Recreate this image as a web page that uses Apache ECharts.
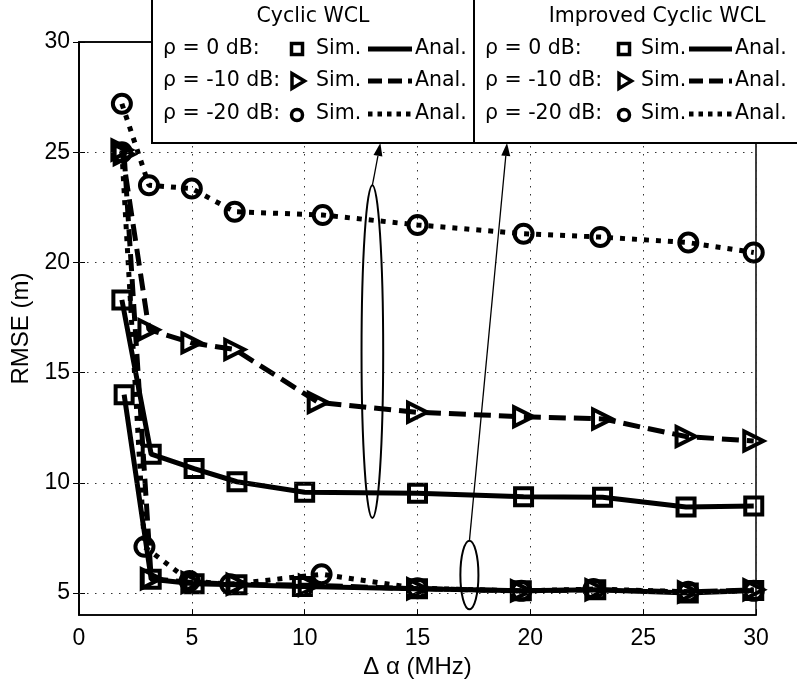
<!DOCTYPE html>
<html>
<head>
<meta charset="utf-8">
<script src="https://cdn.jsdelivr.net/npm/echarts@6/dist/echarts.min.js"></script>
<style>
  html, body { margin: 0; padding: 0; background: #fff; }
  #chart { width: 797px; height: 684px; }
</style>
</head>
<body>
<div id="chart"></div>
<script>
// RMSE versus frequency offset for cyclic WCL and improved cyclic WCL
const yTicks = [5, 10, 15, 20, 25, 30];

// Cyclic WCL
const cyc0X   = [1.9, 3.2, 5.1, 7.0, 10.0, 15.0, 19.7, 23.2, 26.9, 29.9];
const cyc0Y   = [18.3, 11.3, 10.65, 10.05, 9.57, 9.53, 9.37, 9.35, 8.9, 8.95];
const cyc10X  = [1.9, 3.1, 5.0, 6.9, 10.6, 15.0, 19.7, 23.2, 26.9, 29.9];
const cyc10Y  = [25.1, 16.95, 16.35, 16.05, 13.65, 13.2, 13.0, 12.9, 12.1, 11.9];
const cyc20X  = [1.9, 3.1, 5.0, 6.9, 10.8, 15.0, 19.7, 23.1, 27.0, 29.9];
const cyc20Y  = [27.2, 23.5, 23.35, 22.3, 22.15, 21.7, 21.3, 21.15, 20.9, 20.45];

// Improved cyclic WCL
const imp0X   = [2.0, 3.2, 5.1, 7.0, 9.9, 15.0, 19.6, 22.9, 27.0, 29.9];
const imp0Y   = [14.0, 5.63, 5.42, 5.38, 5.3, 5.2, 5.1, 5.15, 5.0, 5.12];
const imp10X  = [2.0, 3.2, 5.0, 7.0, 10.2, 15.0, 19.6, 22.9, 27.0, 29.9];
const imp10Y  = [24.9, 5.65, 5.48, 5.4, 5.35, 5.2, 5.1, 5.15, 5.05, 5.15];
const imp20X  = [1.9, 2.9, 4.9, 6.7, 10.75, 15.0, 19.6, 22.8, 27.0, 29.9];
const imp20Y  = [25.0, 7.1, 5.55, 5.4, 5.85, 5.22, 5.1, 5.18, 5.06, 5.1];

// Annotation ellipses (data units) and the arrows leading to each legend box
const ellipseCyclic   = { x: 13.0, y: 15.95, rx: 0.48, ry: 7.55 };
const ellipseImproved = { x: 17.3, y: 5.82, rx: 0.4, ry: 1.55 };

const chart = echarts.init(document.getElementById('chart'), null, { renderer: 'canvas' });

const zip = (xs, ys) => xs.map((x, i) => [x, ys[i]]);
const DASH = [17, 8];
const DOT = [5, 7];

function curve(name, xs, ys, symbol, dash, extra) {
  return Object.assign({
    name: name,
    type: 'line',
    data: zip(xs, ys),
    symbol: symbol,
    symbolSize: 17,
    showAllSymbol: true,
    lineStyle: { color: '#000', width: 5, type: dash, cap: 'butt' },
    itemStyle: { color: 'rgba(0,0,0,0)', borderColor: '#000', borderWidth: 4 },
    emphasis: { disabled: true },
    animation: false,
    z: 3
  }, extra || {});
}

const series = [
  curve('cyc0', cyc0X, cyc0Y, 'rect', 'solid', { symbolSize: 17 }),
  curve('cyc10', cyc10X, cyc10Y, 'triangle', DASH, { symbolRotate: -90, symbolSize: 19 }),
  curve('cyc20', cyc20X, cyc20Y, 'circle', DOT, { symbolSize: 18 }),
  curve('imp0', imp0X, imp0Y, 'rect', 'solid', { symbolSize: 17 }),
  curve('imp10', imp10X, imp10Y, 'triangle', DASH, { symbolRotate: -90, symbolSize: 19 }),
  curve('imp20', imp20X, imp20Y, 'circle', DOT, { symbolSize: 18 }),
  // horizontal dotted grid lines at the y ticks
  {
    type: 'line', data: [], silent: true,
    markLine: {
      symbol: 'none', silent: true, animation: false,
      label: { show: false },
      lineStyle: { color: '#333', width: 1, type: [1.5, 6.5] },
      data: yTicks.filter(v => v < 30).map(v => ({ yAxis: v }))
    }
  }
];

const tickFont = { fontFamily: 'Liberation Sans', fontSize: 23, color: '#000' };
const nameFont = { fontFamily: 'Liberation Sans', fontSize: 24, color: '#000' };

chart.setOption({
  animation: false,
  backgroundColor: '#fff',
  grid: { left: 79, right: 41, top: 42, bottom: 68, show: true, borderColor: '#000', borderWidth: 1.5, backgroundColor: 'transparent' },
  xAxis: [{
    type: 'value', min: 0, max: 30, interval: 5,
    name: 'Δ α (MHz)', nameLocation: 'middle', nameGap: 37,
    nameTextStyle: nameFont,
    axisLine: { show: true, lineStyle: { color: '#000', width: 1.5 } },
    axisTick: { show: true, inside: true, length: 6, lineStyle: { color: '#000' } },
    axisLabel: Object.assign({ margin: 12 }, tickFont),
    splitLine: { show: true, lineStyle: { color: '#333', width: 1, type: [1.5, 6.5] } }
  }, {
    type: 'value', min: 0, max: 30, interval: 5, position: 'top',
    axisLine: { show: true, lineStyle: { color: '#000', width: 1.5 } },
    axisTick: { show: true, inside: true, length: 6, lineStyle: { color: '#000' } },
    axisLabel: { show: false }, splitLine: { show: false }
  }],
  yAxis: [{
    type: 'value', min: 4, max: 30,
    name: 'RMSE (m)', nameLocation: 'middle', nameGap: 39,
    nameTextStyle: nameFont,
    axisLine: { show: true, lineStyle: { color: '#000', width: 1.5 } },
    axisTick: { show: true, inside: true, length: 6, customValues: yTicks, lineStyle: { color: '#000' } },
    axisLabel: Object.assign({ margin: 9, customValues: yTicks }, tickFont),
    splitLine: { show: false }
  }, {
    type: 'value', min: 4, max: 30, position: 'right',
    axisLine: { show: true, lineStyle: { color: '#000', width: 1.5 } },
    axisTick: { show: true, inside: true, length: 6, customValues: yTicks, lineStyle: { color: '#000' } },
    axisLabel: { show: false }, splitLine: { show: false }
  }],
  series: series
});

// ---- legend boxes and annotations ----
const LEG_FONT = '20.5px "DejaVu Sans"';
const rows = [49, 81, 114];
const labels = ['ρ = 0 dB:', 'ρ = -10 dB:', 'ρ = -20 dB:'];
const dashes = [null, [14, 6], [4.5, 5]];

function legendBox(x0, w, title, titleX, markerX, simX, lineX0, lineX1, analX) {
  const els = [];
  els.push({ type: 'rect', shape: { x: x0, y: -3, width: w, height: 146 },
    style: { fill: '#fff', stroke: '#000', lineWidth: 2 }, z: 10 });
  els.push({ type: 'text', x: titleX, y: 17, z: 11,
    style: { text: title, font: LEG_FONT, fill: '#000', align: 'center', verticalAlign: 'middle' } });
  rows.forEach((ry, i) => {
    els.push({ type: 'text', x: x0 + 11, y: ry, z: 11,
      style: { text: labels[i], font: LEG_FONT, fill: '#000', align: 'left', verticalAlign: 'middle' } });
    if (i === 0) {
      els.push({ type: 'rect', shape: { x: markerX - 5.5, y: ry - 5.5, width: 11, height: 11 }, z: 11,
        style: { fill: 'none', stroke: '#000', lineWidth: 3.5 } });
    } else if (i === 1) {
      els.push({ type: 'polygon', shape: { points: [[markerX - 5, ry - 7.5], [markerX + 7.5, ry], [markerX - 5, ry + 7.5]] }, z: 11,
        style: { fill: 'none', stroke: '#000', lineWidth: 3.5, lineJoin: 'miter' } });
    } else {
      els.push({ type: 'circle', shape: { cx: markerX, cy: ry + 1, r: 5.5 }, z: 11,
        style: { fill: 'none', stroke: '#000', lineWidth: 3.5 } });
    }
    els.push({ type: 'text', x: simX, y: ry, z: 11,
      style: { text: 'Sim.', font: LEG_FONT, fill: '#000', align: 'left', verticalAlign: 'middle' } });
    els.push({ type: 'line', shape: { x1: lineX0, y1: ry, x2: lineX1, y2: ry }, z: 11,
      style: { stroke: '#000', lineWidth: 5, lineDash: dashes[i] } });
    els.push({ type: 'text', x: analX, y: ry, z: 11,
      style: { text: 'Anal.', font: LEG_FONT, fill: '#000', align: 'left', verticalAlign: 'middle' } });
  });
  return els;
}

function arrow(p0, p1) {
  const dx = p1[0] - p0[0], dy = p1[1] - p0[1];
  const len = Math.sqrt(dx * dx + dy * dy);
  const ux = dx / len, uy = dy / len;
  const hl = 13, hw = 4.5;
  const bx = p1[0] - ux * hl, by = p1[1] - uy * hl;
  return [
    { type: 'line', shape: { x1: p0[0], y1: p0[1], x2: bx, y2: by }, z: 9,
      style: { stroke: '#000', lineWidth: 1.3 } },
    { type: 'polygon', shape: { points: [[p1[0], p1[1]], [bx - uy * hw, by + ux * hw], [bx + uy * hw, by - ux * hw]] }, z: 9,
      style: { fill: '#000' } }
  ];
}

function ellipseEl(e) {
  const c = chart.convertToPixel({ gridIndex: 0 }, [e.x, e.y]);
  const a = chart.convertToPixel({ gridIndex: 0 }, [e.x + e.rx, e.y + e.ry]);
  return { type: 'ellipse', shape: { cx: c[0], cy: c[1], rx: Math.abs(a[0] - c[0]), ry: Math.abs(c[1] - a[1]) }, z: 9,
    style: { fill: 'none', stroke: '#000', lineWidth: 2 } };
}

const topOf = e => chart.convertToPixel({ gridIndex: 0 }, [e.x, e.y + e.ry]);
const legendBottom = 143;

const graphics = []
  .concat(ellipseEl(ellipseCyclic), ellipseEl(ellipseImproved))
  .concat(arrow(topOf(ellipseCyclic), [topOf(ellipseCyclic)[0] + 8, legendBottom]))
  .concat(arrow(topOf(ellipseImproved), [507, legendBottom]))
  .concat(legendBox(152, 322, 'Cyclic WCL', 313, 297, 316, 368, 412, 415))
  .concat(legendBox(474, 326, 'Improved Cyclic WCL', 657, 624, 641, 689, 732, 735));

chart.setOption({ graphic: { elements: graphics } });
</script>
</body>
</html>
